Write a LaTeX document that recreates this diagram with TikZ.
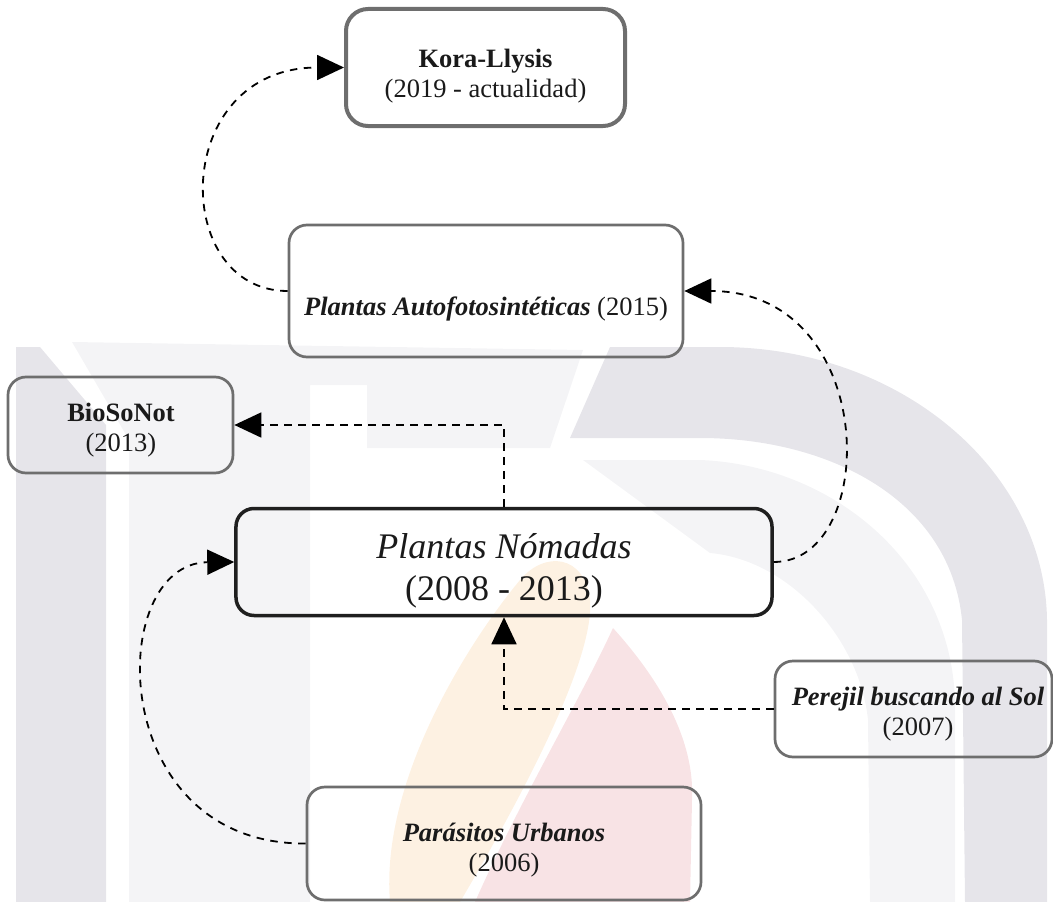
\documentclass[tikz,border=0pt]{standalone}
\usepackage{fontspec}
\setmainfont{Liberation Serif}
\usetikzlibrary{arrows.meta}
\definecolor{wmdark}{HTML}{E6E5EA}
\definecolor{wmlight}{HTML}{F4F4F6}
\definecolor{wmorange}{HTML}{FDF1E2}
\definecolor{wmpink}{HTML}{F8E3E5}
\definecolor{boxgrey}{HTML}{6E6E6E}
\definecolor{boxdark}{HTML}{1F1F1F}
\definecolor{txt}{HTML}{1A1A1A}
\tikzset{
  box/.style={draw=boxgrey, rounded corners=18bp, line width=2.7bp, inner sep=0pt},
  mainbox/.style={box, draw=boxdark, line width=3.5bp},
  topbox/.style={box, line width=4bp, rounded corners=22bp},
  lbl/.style={text=txt, align=center, inner sep=0pt, font=\fontsize{26.5bp}{30bp}\selectfont},
  biglbl/.style={lbl, font=\fontsize{36bp}{42bp}\selectfont},
  conn/.style={draw=black, line width=1.8bp, dash pattern=on 7.5bp off 6.5bp,
    -{Triangle[length=27bp,width=25bp]}},
}
\begin{document}
\begin{tikzpicture}[x=1bp,y=-1bp]
\useasboundingbox (0,0) rectangle (1053,902);
% watermark
\fill[wmdark] (16,347) -- (40,347) -- (106,425) -- (106,902) -- (16,902) -- cycle;
\fill[wmlight] (129,902) -- (129,440) -- (72,342) -- (583,350) -- (550,448) -- (367,448)
  -- (367,385) -- (310,385) -- (310,902) -- cycle;
\fill[wmdark] (570,438) -- (610,347) -- (720,347) .. controls (900,347) and (1045,470) .. (1047,620)
  -- (1047,902) -- (965,902) -- (962,620) .. controls (950,500) and (830,438) .. (700,438) -- cycle;
\fill[wmlight] (583,460) -- (700,460) .. controls (830,465) and (950,560) .. (955,700) -- (955,902)
  -- (870,902) -- (868,720) .. controls (860,640) and (790,560) .. (710,553) -- cycle;
\fill[wmorange] (390,902) .. controls (380,780) and (470,640) .. (520,580)
  .. controls (545,550) and (585,555) .. (590,600) .. controls (595,660) and (520,800) .. (460,902) -- cycle;
\fill[wmpink] (613,628) .. controls (660,680) and (695,740) .. (692,800) -- (690,902) -- (475,902)
  .. controls (520,800) and (580,700) .. (613,628) -- cycle;
% boxes
\node[topbox, minimum width=279bp, minimum height=117bp] (kora) at (485.5,67.5) {};
\node[lbl] (koratxt) at (485.5,76) {\textbf{Kora-Llysis}\\(2019 - actualidad)};
\node[box, minimum width=394bp, minimum height=132bp] (auto) at (486,291) {};
\node[lbl] (autotxt) at (486,309) {\textbf{\textit{Plantas Autofotosintéticas}} (2015)};
\node[box, minimum width=225bp, minimum height=96bp] (bio) at (120.5,425) {};
\node[lbl] (biotxt) at (121,430) {\textbf{BioSoNot}\\(2013)};
\node[mainbox, minimum width=536bp, minimum height=107bp] (nom) at (504,562) {};
\node[biglbl] (nomtxt) at (504,571) {\textit{Plantas Nómadas}\\(2008 - 2013)};
\node[box, minimum width=277bp, minimum height=96bp] (per) at (913.5,709) {};
\node[lbl] (pertxt) at (918,714) {\textbf{\textit{Perejil buscando al Sol}}\\(2007)};
\node[box, minimum width=394bp, minimum height=113bp] (par) at (504,843.5) {};
\node[lbl] (partxt) at (504,850) {\textbf{\textit{Parásitos Urbanos}}\\(2006)};
% connectors
\draw[conn] (nom.north) |- (bio.east);
\draw[conn] (per.west) -| (nom.south);
\draw[conn] (par.west) .. controls (105,845) and (105,563) .. (nom.west);
\draw[conn] (nom.east) .. controls (880,562) and (880,291) .. (auto.east);
\draw[conn] (auto.west) .. controls (170,291) and (170,67.5) .. (kora.west);
\end{tikzpicture}
\end{document}
